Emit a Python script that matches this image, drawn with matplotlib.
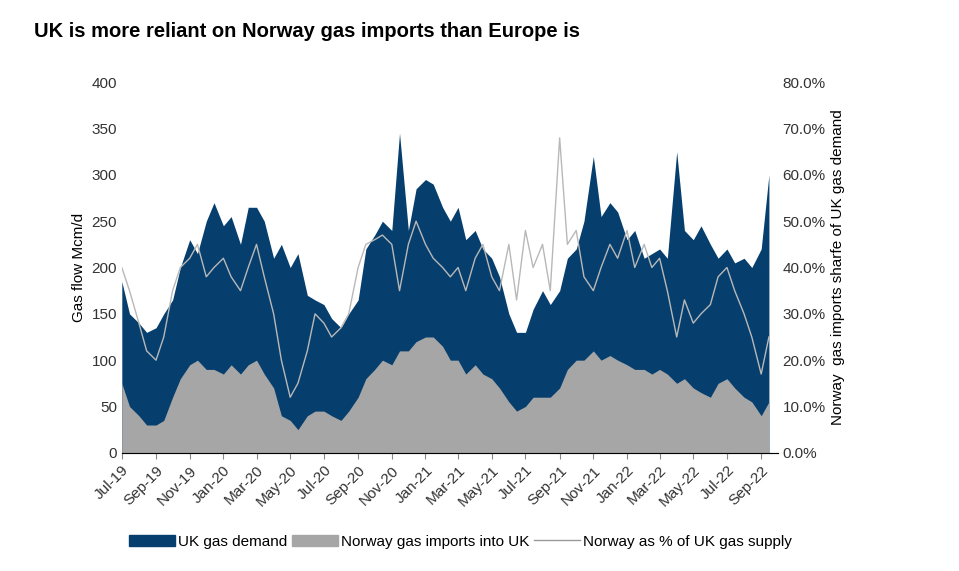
import numpy as np
import pandas as pd
import matplotlib.pyplot as plt
import matplotlib.dates as mdates
from matplotlib.ticker import FuncFormatter
from matplotlib.lines import Line2D
from matplotlib.patches import Patch

plt.rcParams['font.family'] = ['Liberation Sans', 'DejaVu Sans']

dates = pd.date_range("2019-07-01", "2022-09-30", freq="SMS")

uk_demand = [185, 150, 140, 130, 135, 150, 165, 200, 230, 215, 250, 270,
             245, 255, 225, 265, 265, 250, 210, 225, 200, 215, 170, 165,
             160, 145, 135, 150, 165, 220, 235, 250, 240, 345, 240, 285,
             295, 290, 265, 250, 265, 230, 240, 220, 210, 190, 150, 130,
             130, 155, 175, 160, 175, 210, 220, 250, 320, 255, 270, 260,
             230, 240, 210, 215, 220, 210, 325, 240, 230, 245, 225, 210,
             220, 205, 210, 200, 220, 300]

norway_imports = [75, 50, 40, 30, 30, 35, 60, 80, 95, 100, 90, 90,
                  85, 95, 85, 95, 100, 85, 70, 40, 35, 25, 40, 45,
                  45, 40, 35, 45, 60, 80, 90, 100, 95, 110, 110, 120,
                  125, 125, 115, 100, 100, 85, 95, 85, 80, 70, 55, 45,
                  50, 60, 60, 60, 70, 90, 100, 100, 110, 100, 105, 100,
                  95, 90, 90, 85, 90, 85, 75, 80, 70, 65, 60, 75,
                  80, 70, 60, 55, 40, 55]

norway_pct = [40, 35, 28, 22, 20, 25, 35, 40, 42, 45, 38, 40,
              42, 38, 35, 40, 45, 38, 30, 20, 12, 15, 22, 30,
              28, 25, 27, 30, 40, 45, 46, 47, 45, 35, 45, 50,
              45, 42, 40, 38, 40, 35, 42, 45, 38, 35, 45, 33,
              48, 40, 45, 35, 68, 45, 48, 38, 35, 40, 45, 42,
              48, 40, 45, 40, 42, 35, 25, 33, 28, 30, 32, 38,
              40, 35, 30, 25, 17, 25]

navy = "#063f6e"
grey = "#a6a6a6"

fig = plt.figure(figsize=(9.59, 5.71), dpi=100)
ax = fig.add_axes([0.127, 0.207, 0.684, 0.649])
ax2 = ax.twinx()

ax.fill_between(dates, uk_demand, color=navy, linewidth=0)
ax.fill_between(dates, norway_imports, color=grey, linewidth=0)
ax2.plot(dates, np.array(norway_pct) / 100, color="#b8b8b8", linewidth=1)

ax.set_ylim(0, 400)
ax.set_yticks(range(0, 401, 50))
ax2.set_ylim(0, 0.8)
ax2.set_yticks(np.arange(0, 0.81, 0.1))
ax2.yaxis.set_major_formatter(FuncFormatter(lambda v, p: f"{v*100:.1f}%"))
ax.set_xlim(dates[0], pd.Timestamp("2022-10-01"))

ticks = pd.date_range("2019-07-01", "2022-09-01", freq="2MS")
ax.set_xticks(ticks)
ax.xaxis.set_major_formatter(mdates.DateFormatter("%b-%y"))
plt.setp(ax.get_xticklabels(), rotation=45, ha="right", rotation_mode="anchor")

for a in (ax, ax2):
    for s in ("top", "left", "right"):
        a.spines[s].set_visible(False)
    a.tick_params(length=0, labelsize=11, colors="#333333")
ax.spines["bottom"].set_color("#888888")
ax.tick_params(axis="x", length=4, color="#888888")

ax.set_ylabel("Gas flow Mcm/d", fontsize=11)
ax2.set_ylabel("Norway  gas imports sharfe of UK gas demand", fontsize=11)

fig.text(0.035, 0.935, "UK is more reliant on Norway gas imports than Europe is",
         fontsize=14.5, fontweight="bold")

handles = [Patch(color=navy), Patch(color=grey), Line2D([], [], color="#999999", lw=1)]
labels = ["UK gas demand", "Norway gas imports into UK", "Norway as % of UK gas supply"]
fig.legend(handles, labels, loc="lower center", bbox_to_anchor=(0.48, 0.015), ncol=3,
           frameon=False, fontsize=11, handlelength=3, columnspacing=0.3, handletextpad=0.2)

fig.savefig("out.png", dpi=100)
